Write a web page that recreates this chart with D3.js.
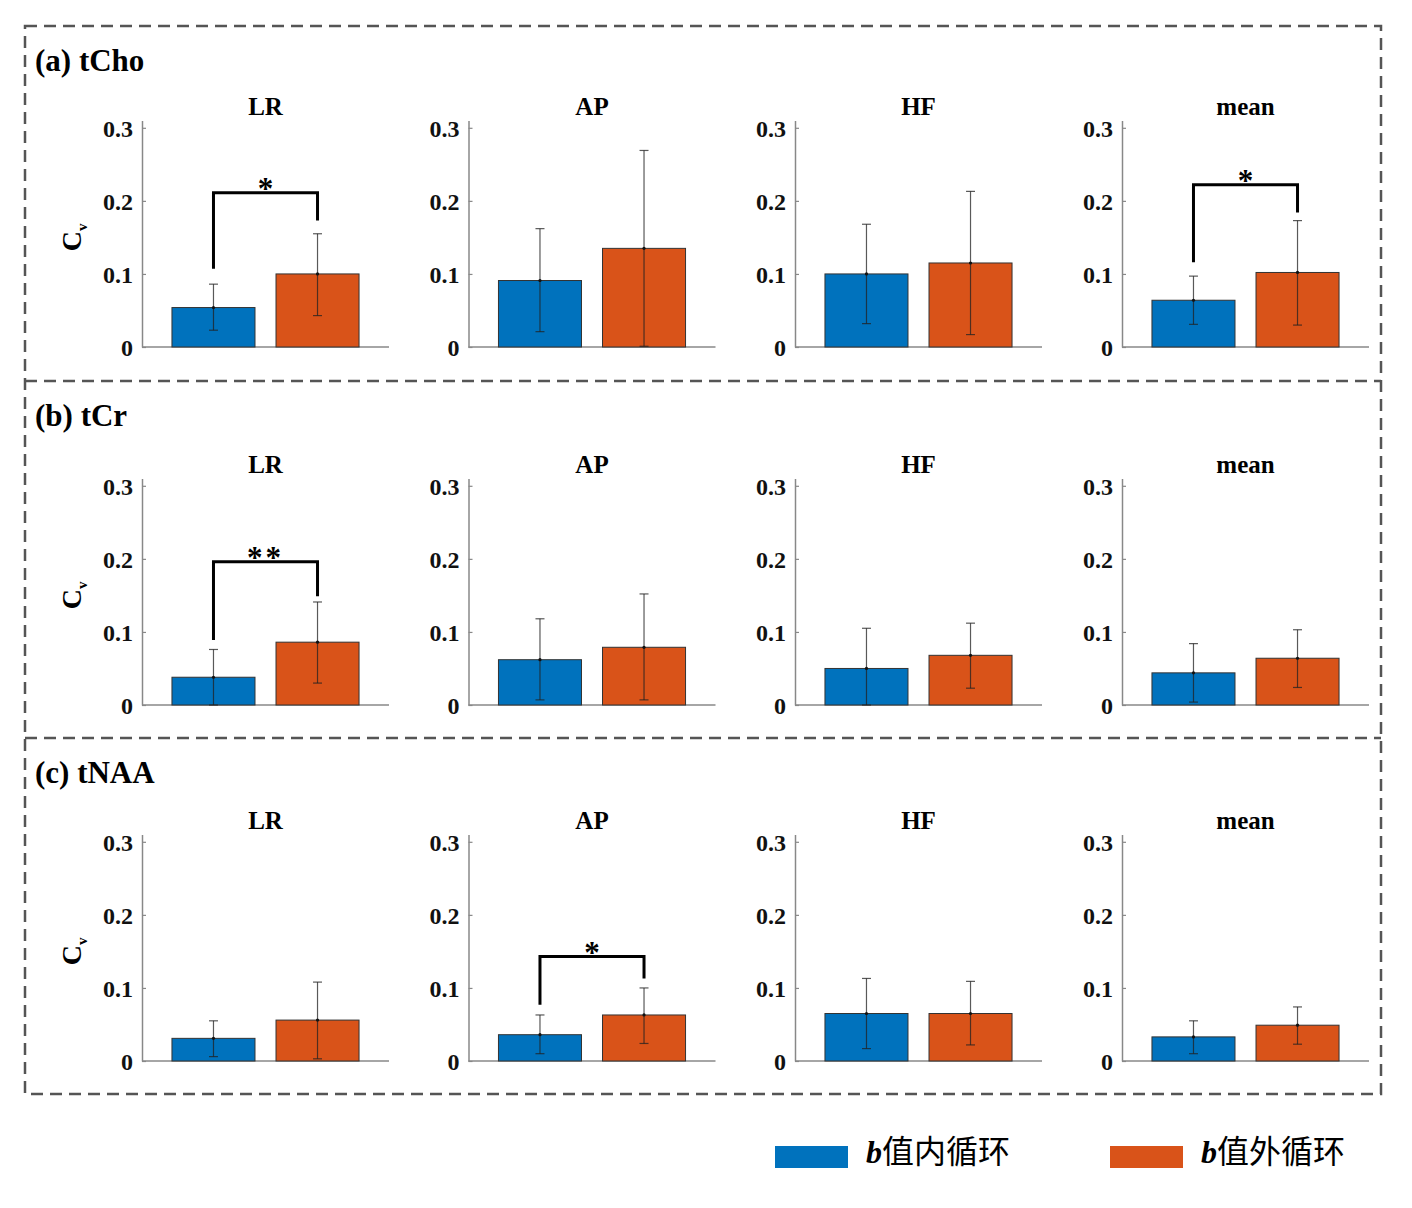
<!DOCTYPE html>
<html>
<head>
<meta charset="utf-8">
<script src="https://cdn.jsdelivr.net/npm/d3@7"></script>
<style>
  html, body { margin: 0; padding: 0; background: #fff; }
  svg { display: block; }
</style>
</head>
<body>
<svg id="chart" width="1412" height="1208"></svg>
<script>
// ---------------- data ----------------
const panelLabels = ["(a) tCho", "(b) tCr", "(c) tNAA"];
const directions = ["LR", "AP", "HF", "mean"];
const seriesNames = ["值内循环", "值外循环"];
const seriesPrefix = "b";
const yTicks = [0, 0.1, 0.2, 0.3];

// rows: tCho, tCr, tNAA ; columns: LR, AP, HF, mean
const innerMean = [[0.054, 0.091, 0.100, 0.064], [0.038, 0.062, 0.050, 0.044], [0.031, 0.036, 0.065, 0.033]];
const innerLow  = [[0.023, 0.021, 0.032, 0.031], [0.000, 0.007, 0.000, 0.004], [0.006, 0.010, 0.017, 0.010]];
const innerHigh = [[0.086, 0.162, 0.168, 0.097], [0.076, 0.118, 0.105, 0.084], [0.055, 0.063, 0.113, 0.055]];
const outerMean = [[0.100, 0.135, 0.115, 0.102], [0.086, 0.079, 0.068, 0.064], [0.056, 0.063, 0.065, 0.049]];
const outerLow  = [[0.043, 0.001, 0.017, 0.030], [0.030, 0.007, 0.023, 0.024], [0.003, 0.024, 0.022, 0.023]];
const outerHigh = [[0.155, 0.269, 0.213, 0.173], [0.141, 0.152, 0.112, 0.103], [0.108, 0.100, 0.109, 0.074]];

// significance brackets
const sigRow   = [0, 0, 1, 2];
const sigCol   = [0, 3, 0, 1];
const sigLevel = [0.211, 0.222, 0.196, 0.143];
const sigLeft  = [0.107, 0.116, 0.089, 0.077];
const sigRight = [0.173, 0.184, 0.149, 0.113];
const sigLabel = ["*", "*", "**", "*"];

// ---------------- layout ----------------
const colors = ["#0072BD", "#D95319"];
const colLeft = [142, 468.5, 795, 1122];
const rowBase = [347, 705, 1061];
const panelW = 247;
const panelH = 226.5;   // height for 0..0.31
const serif = "'Liberation Serif', 'Times New Roman', serif";

const svg = d3.select("#chart");

// dashed frames
const frame = svg.append("g")
  .attr("fill", "none").attr("stroke", "#555").attr("stroke-width", 2.5)
  .attr("stroke-dasharray", "12,7");
frame.append("rect").attr("x", 25).attr("y", 26).attr("width", 1356).attr("height", 1068);
frame.append("line").attr("x1", 25).attr("x2", 1381).attr("y1", 381).attr("y2", 381);
frame.append("line").attr("x1", 25).attr("x2", 1381).attr("y1", 738).attr("y2", 738);

const rowTop = [26, 381, 738];

panelLabels.forEach((lab, r) => {
  svg.append("text")
    .attr("x", 35).attr("y", rowTop[r] + 45)
    .attr("font-family", serif).attr("font-weight", "bold").attr("font-size", 31)
    .text(lab);

  const y = d3.scaleLinear().domain([0, 0.31]).range([rowBase[r], rowBase[r] - panelH]);

  // Cv label
  const cv = svg.append("text")
    .attr("transform", `translate(81,${y(0.15)}) rotate(-90)`)
    .attr("text-anchor", "middle")
    .attr("font-family", serif).attr("font-weight", "bold").attr("font-size", 28);
  cv.append("tspan").text("C");
  cv.append("tspan").attr("font-size", 15).attr("dy", 6).text("v");

  directions.forEach((dir, c) => {
    const left = colLeft[c];
    const x = d3.scaleBand().domain([0, 1]).range([left, left + panelW])
      .paddingInner(0.202).paddingOuter(0.288);
    const g = svg.append("g");

    // title
    g.append("text")
      .attr("x", left + panelW / 2).attr("y", rowBase[r] - 232)
      .attr("text-anchor", "middle")
      .attr("font-family", serif).attr("font-weight", "bold").attr("font-size", 25)
      .text(dir);

    // y axis
    const ax = g.append("g").attr("transform", `translate(${left},0)`)
      .call(d3.axisLeft(y).tickValues(yTicks).tickSize(-4).tickSizeOuter(0).tickPadding(9)
        .tickFormat(d => d === 0 ? "0" : d3.format(".1f")(d)));
    ax.select(".domain").attr("stroke", "#888").attr("stroke-width", 1.5);
    ax.selectAll(".tick line").attr("stroke", "#888").attr("stroke-width", 1.2);
    ax.selectAll(".tick text")
      .attr("font-family", serif).attr("font-weight", "bold").attr("font-size", 24)
      .attr("fill", "#111").attr("dy", "0.36em");

    // x baseline
    g.append("line")
      .attr("x1", left).attr("x2", left + panelW)
      .attr("y1", y(0)).attr("y2", y(0))
      .attr("stroke", "#888").attr("stroke-width", 1.5);

    const means = [innerMean[r][c], outerMean[r][c]];
    const lows = [innerLow[r][c], outerLow[r][c]];
    const highs = [innerHigh[r][c], outerHigh[r][c]];

    [0, 1].forEach(s => {
      g.append("rect")
        .attr("x", x(s)).attr("width", x.bandwidth())
        .attr("y", y(means[s])).attr("height", y(0) - y(means[s]))
        .attr("fill", colors[s]).attr("stroke", "#333").attr("stroke-width", 1);
    });
    [0, 1].forEach(s => {
      const cx = x(s) + x.bandwidth() / 2;
      const eb = g.append("g").attr("stroke", "#222").attr("stroke-opacity", 0.75).attr("stroke-width", 1.2);
      eb.append("line").attr("x1", cx).attr("x2", cx).attr("y1", y(lows[s])).attr("y2", y(highs[s]));
      eb.append("line").attr("x1", cx - 4.5).attr("x2", cx + 4.5).attr("y1", y(lows[s])).attr("y2", y(lows[s]));
      eb.append("line").attr("x1", cx - 4.5).attr("x2", cx + 4.5).attr("y1", y(highs[s])).attr("y2", y(highs[s]));
      g.append("circle").attr("cx", cx).attr("cy", y(means[s])).attr("r", 1.6).attr("fill", "#111");
    });

    // significance brackets
    sigRow.forEach((sr, i) => {
      if (sr !== r || sigCol[i] !== c) return;
      const x1 = x(0) + x.bandwidth() / 2, x2 = x(1) + x.bandwidth() / 2;
      const yl = y(sigLevel[i]);
      g.append("path")
        .attr("d", `M${x1},${y(sigLeft[i])}V${yl}H${x2}V${y(sigRight[i])}`)
        .attr("fill", "none").attr("stroke", "#000").attr("stroke-width", 3);
      g.append("text")
        .attr("x", (x1 + x2) / 2).attr("y", yl + 6)
        .attr("text-anchor", "middle")
        .attr("letter-spacing", sigLabel[i].length > 1 ? 3 : 0)
        .attr("font-family", serif).attr("font-weight", "bold").attr("font-size", 31)
        .text(sigLabel[i]);
    });
  });
});

// legend
const legX = [775, 1110];
seriesNames.forEach((name, s) => {
  svg.append("rect").attr("x", legX[s]).attr("y", 1146).attr("width", 73).attr("height", 22)
    .attr("fill", colors[s]);
  const t = svg.append("text").attr("x", legX[s] + 91).attr("y", 1163)
    .attr("font-size", 32);
  t.append("tspan").attr("font-family", serif).attr("font-weight", "bold").attr("font-style", "italic")
    .text(seriesPrefix);
  t.append("tspan").attr("font-family", "'Noto Sans CJK SC', sans-serif").attr("font-weight", 400)
    .text(name);
});
</script>
</body>
</html>
